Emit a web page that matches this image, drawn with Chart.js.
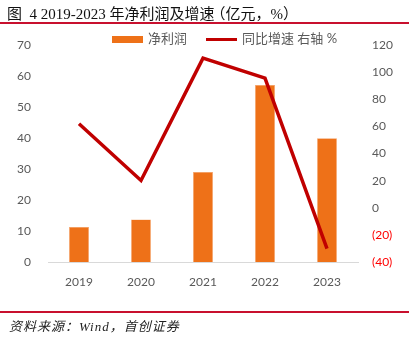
<!DOCTYPE html>
<html>
<head>
<meta charset="utf-8">
<script src="https://cdn.jsdelivr.net/npm/chart.js@4/dist/chart.umd.min.js"></script>
<style>
  html, body { margin: 0; padding: 0; background: #fff; }
  #wrap { position: relative; width: 409px; height: 337px; overflow: hidden; }
  #title { position: absolute; left: 7px; top: 2px; font-family: "Liberation Serif", "Noto Sans CJK SC", serif; font-size: 15px; color: #111; white-space: nowrap; }
  #title .cn { font-family: "Noto Sans CJK SC", sans-serif; font-weight: 400; }
  #title .lp { font-family: "Noto Sans CJK SC", sans-serif; font-weight: 400; margin-left: -4px; }
  #topRule { position: absolute; left: 0; top: 22px; width: 409px; height: 2px; background: #c8102e; }
  #botRule { position: absolute; left: 0; top: 311px; width: 409px; height: 2px; background: #c8102e; }
  #source { position: absolute; left: 9px; top: 316px; font-family: "Liberation Serif", "Noto Sans CJK SC", serif; font-style: italic; font-size: 13px; letter-spacing: 1px; color: #222; white-space: nowrap; }
  #legend { position: absolute; top: 30px; left: 0; font-family: Lato, "Noto Sans CJK SC", sans-serif; font-size: 13px; color: #595959; }
  .lg { position: absolute; white-space: nowrap; }
  canvas { position: absolute; left: 0; top: 0; }
</style>
</head>
<body>
<div id="wrap">
  <canvas id="c" width="409" height="337"></canvas>
  <div id="title">图&nbsp; 4 2019-2023 <span class="cn">年净利润及增速</span><span class="lp">（</span><span class="cn">亿元，</span>%<span class="cn">）</span></div>
  <div id="topRule"></div>
  <div id="legend">
    <div class="lg" style="left:112px;top:6px;width:31px;height:7px;background:#ee7118;"></div>
    <div class="lg" style="left:148px;top:-2px;">净利润</div>
    <div class="lg" style="left:206px;top:8px;width:31px;height:3px;background:#c00000;"></div>
    <div class="lg" style="left:242px;top:-2px;">同比增速 右轴 %</div>
  </div>
  <div id="botRule"></div>
  <div id="source">资料来源：Wind，首创证券</div>
</div>
<script>
// Years on the category axis
const years = ['2019', '2020', '2021', '2022', '2023'];
// Net profit, 100 million yuan (left axis)
const netProfit = [11.3, 13.7, 29.0, 57.1, 39.9];
// Year-on-year growth, % (right axis)
const yoyGrowth = [61.9, 20.1, 110.3, 95.6, -30.2];
// Tick ranges for the two value axes
const leftTicks = [0, 10, 20, 30, 40, 50, 60, 70];
const rightTicks = [-40, -20, 0, 20, 40, 60, 80, 100, 120];

const tickFont = { family: 'Lato, "Liberation Sans", sans-serif', size: 12 };
const grey = '#595959';

new Chart(document.getElementById('c'), {
  data: {
    labels: years,
    datasets: [
      {
        type: 'line',
        label: '同比增速 右轴 %',
        data: yoyGrowth,
        yAxisID: 'yR',
        borderColor: '#c00000',
        backgroundColor: '#c00000',
        borderWidth: 3.5,
        pointRadius: 0,
        tension: 0,
        order: 0
      },
      {
        type: 'bar',
        label: '净利润',
        data: netProfit,
        yAxisID: 'yL',
        backgroundColor: '#ee7118',
        borderColor: '#f4a36a',
        borderWidth: 0.5,
        categoryPercentage: 1,
        barPercentage: 0.32,
        order: 1
      }
    ]
  },
  options: {
    responsive: false,
    animation: false,
    devicePixelRatio: 1,
    layout: { padding: { top: 45, left: 0, right: 0, bottom: 0 } },
    plugins: { legend: { display: false }, tooltip: { enabled: false } },
    scales: {
      x: {
        grid: { display: false, drawTicks: false },
        border: { display: true, color: '#d9d9d9', width: 1 },
        ticks: { color: grey, font: tickFont, padding: 13 },
        afterFit: (s) => { s.height = 75; }
      },
      yL: {
        position: 'left',
        min: 0, max: 70,
        afterBuildTicks: (s) => { s.ticks = leftTicks.map(v => ({ value: v })); },
        grid: { display: false, drawTicks: false },
        border: { display: false },
        ticks: { color: grey, font: tickFont, padding: 17 },
        afterFit: (s) => { s.width = 48; }
      },
      yR: {
        position: 'right',
        min: -40, max: 120,
        afterBuildTicks: (s) => { s.ticks = rightTicks.map(v => ({ value: v })); },
        grid: { display: false, drawTicks: false },
        border: { display: false },
        ticks: {
          font: tickFont,
          padding: 14,
          color: (ctx) => (ctx.tick && ctx.tick.value < 0 ? '#ff0000' : grey),
          callback: (v) => (v < 0 ? '(' + Math.abs(v) + ')' : String(v))
        },
        afterFit: (s) => { s.width = 51; }
      }
    }
  }
});
</script>
</body>
</html>
